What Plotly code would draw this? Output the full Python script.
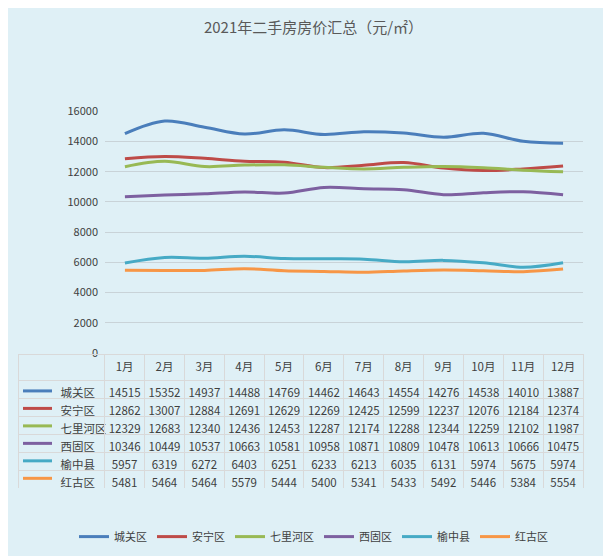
import plotly.graph_objects as go

months = ["1月","2月","3月","4月","5月","6月","7月","8月","9月","10月","11月","12月"]
names = ["城关区","安宁区","七里河区","西固区","榆中县","红古区"]
chengguan = [14515,15352,14937,14488,14769,14462,14643,14554,14276,14538,14010,13887]
anning = [12862,13007,12884,12691,12629,12269,12425,12599,12237,12076,12184,12374]
qilihe = [12329,12683,12340,12436,12453,12287,12174,12288,12344,12259,12102,11987]
xigu = [10346,10449,10537,10663,10581,10958,10871,10809,10478,10613,10666,10475]
yuzhong = [5957,6319,6272,6403,6251,6233,6213,6035,6131,5974,5675,5974]
honggu = [5481,5464,5464,5579,5444,5400,5341,5433,5492,5446,5384,5554]
series = [chengguan, anning, qilihe, xigu, yuzhong, honggu]
colors = ["#4a7ebb","#be4b48","#98b954","#7d60a0","#46aac5","#f79646"]
yticks = [0,2000,4000,6000,8000,10000,12000,14000,16000]

W, H = 611, 556
T_TOP, HDR, ROW = 347, 26, 18
fig = go.Figure()
for n, s, c in zip(names, series, colors):
    fig.add_trace(go.Scatter(x=months, y=s, name=n, mode="lines",
                             line=dict(color=c, width=3, shape="spline"),
                             xaxis="x", yaxis="y"))

first_col = ["\u3000\u3000\u3000" + n for n in names]
cols = [first_col] + [[str(s[i]) for s in series] for i in range(12)]
fig.add_trace(go.Table(
    domain=dict(x=[10/W, 575/W], y=[1-(T_TOP+HDR+6*ROW+4)/H, 1-T_TOP/H]),
    columnwidth=[87] + [40]*12,
    header=dict(values=[""] + months, height=HDR, fill_color="rgba(0,0,0,0)",
                line_color="#d9d9d9", font=dict(size=11.5, color="#404040"), align="center"),
    cells=dict(values=cols, height=ROW, fill_color="rgba(0,0,0,0)",
               line_color="#d9d9d9", font=dict(size=11.5, color="#404040"),
               align=["left"] + ["center"]*12),
))
for i, c in enumerate(colors):
    yc = 1 - (T_TOP + HDR + ROW*i + ROW/2 + 3) / H
    fig.add_shape(type="line", xref="paper", yref="paper", x0=15/W, x1=44/W, y0=yc, y1=yc,
                  line=dict(color=c, width=3))

fig.update_layout(
    width=W, height=H, margin=dict(l=0, r=0, t=0, b=0),
    paper_bgcolor="#dff0f6", plot_bgcolor="#dff0f6",
    font=dict(family="Noto Sans CJK SC", color="#404040"),
    title=dict(text="2021年二手房房价汇总（元/㎡）", x=0.5, xanchor="center", y=1-20/H, yanchor="middle",
               font=dict(size=15, color="#595959")),
    xaxis=dict(domain=[97/W, 575/W], showticklabels=False, showgrid=False, zeroline=False,
               range=[-0.5, 11.5], showline=False),
    yaxis=dict(domain=[1-346/H, 1-97/H], range=[0, 16000], tickvals=yticks, tickformat="d",
               gridcolor="#c9d3d8", zeroline=False, tickfont=dict(size=11, color="#404040"),
               ticks="", ticklabelstandoff=6),
    legend=dict(orientation="h", x=0.5, xanchor="center", y=1-535/H, yanchor="middle",
                font=dict(size=11, color="#404040"), bgcolor="rgba(0,0,0,0)"),
    showlegend=True,
)
fig.write_html("out.html")
